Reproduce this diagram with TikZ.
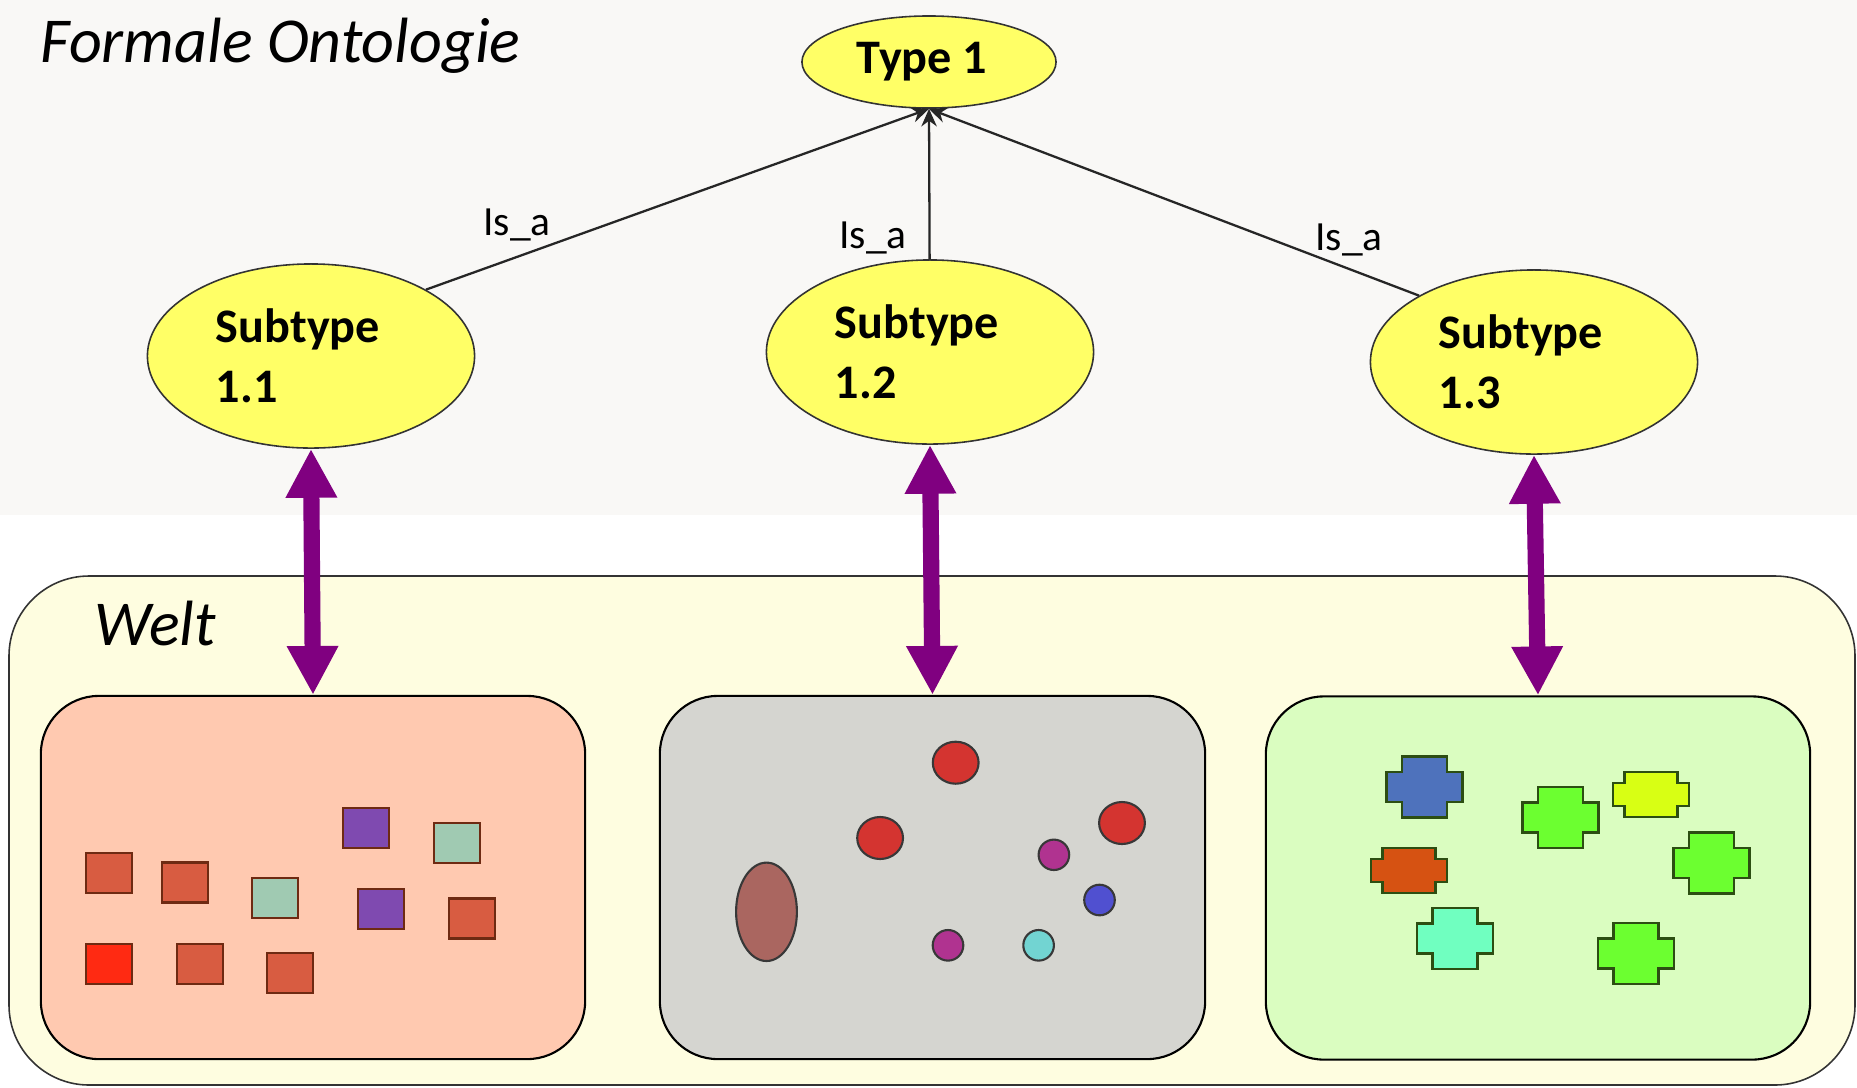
\documentclass[tikz,border=0pt]{standalone}
\usepackage{fontspec}
\setmainfont{Carlito}
\usetikzlibrary{shapes.geometric, arrows.meta}

\definecolor{topgrey}{HTML}{F9F8F6}
\definecolor{weltyellow}{HTML}{FEFDE0}
\definecolor{typeyellow}{HTML}{FFFF66}
\definecolor{linkpurple}{HTML}{800080}
\definecolor{boxred}{HTML}{FFC9B0}
\definecolor{boxgrey}{HTML}{D5D5D0}
\definecolor{boxgreen}{HTML}{DAFDC0}
\definecolor{tilered}{HTML}{D85C41}
\definecolor{tilebright}{HTML}{FF2A12}
\definecolor{tilemint}{HTML}{A0CAB2}
\definecolor{tilepurple}{HTML}{7F4AB0}
\definecolor{tileedge}{HTML}{6E2A12}
\definecolor{blobbrown}{HTML}{AA6660}
\definecolor{blobred}{HTML}{D43430}
\definecolor{blobmagenta}{HTML}{B03390}
\definecolor{blobblue}{HTML}{5050D0}
\definecolor{blobcyan}{HTML}{72D4D2}
\definecolor{crossedge}{HTML}{2C4E12}
\definecolor{crossblue}{HTML}{4E72BC}
\definecolor{crossgreen}{HTML}{6CFF30}
\definecolor{crossyellow}{HTML}{D8FF14}
\definecolor{crossorange}{HTML}{D65212}
\definecolor{crossaqua}{HTML}{70FFC0}

\begin{document}
\begin{tikzpicture}[x=0.01cm, y=-0.01cm,
    typenode/.style={ellipse, draw=black!80, line width=0.45pt, fill=typeyellow, inner sep=0pt,
        font=\fontsize{13.7}{17}\selectfont\bfseries},
    subnode/.style={typenode, minimum width=3.27cm, minimum height=1.84cm, text width=1.9cm, align=left},
    isalabel/.style={font=\fontsize{11.8}{14}\selectfont},
    titlelabel/.style={anchor=base west, inner sep=0pt, font=\fontsize{18.2}{22}\selectfont\itshape},
    isa/.style={draw=black!85, line width=0.65pt, -{Stealth[length=5pt,width=4.4pt]}},
    link/.style={draw=linkpurple, line width=4.6pt,
        {Triangle[length=13.9pt,width=13.7pt]}-{Triangle[length=13.9pt,width=13.7pt]}},
    world/.style={draw=black, line width=0.6pt, rounded corners=0.58cm, inner sep=0pt,
        minimum width=5.44cm, minimum height=3.63cm},
    tile/.style={draw=tileedge, line width=0.6pt},
    blob/.style={draw=black!78, line width=0.6pt},
    crossshape/.style={draw=crossedge, line width=0.7pt}]

    \useasboundingbox (0,0) rectangle (1857,1087);

    % Ontology background
    \fill[topgrey] (0,0) rectangle (1857,515);
    \node[titlelabel] (ontotitle) at (40,62) {Formale Ontologie};

    % Types
    \node[typenode, minimum width=2.54cm, minimum height=0.92cm] (t1) at (929,62) {Type 1\hspace*{4pt}};
    \node[subnode] (s11) at (311,356) {Subtype\\1.1};
    \node[subnode] (s12) at (930,352) {Subtype\\1.2};
    \node[subnode] (s13) at (1534,362) {Subtype\\1.3};

    % Is_a relations
    \draw[isa] (s11.30) -- (t1.south);
    \draw[isa] (s12) -- (t1.south);
    \draw[isa] (s13.150) -- (t1.south);
    \node[isalabel] (isa1) at (517,225) {Is\_a};
    \node[isalabel] (isa2) at (873,238) {Is\_a};
    \node[isalabel] (isa3) at (1349,240) {Is\_a};

    % World
    \draw[draw=black!80, line width=0.45pt, fill=weltyellow, rounded corners=0.8cm] (9,576) rectangle (1855,1085);
    \node[titlelabel] (welttitle) at (94,645) {Welt};

    \node[world, fill=boxred] (objs1) at (313,877.5) {};
    \node[world, fill=boxgrey, minimum width=5.45cm] (objs2) at (932.5,877.5) {};
    \node[world, fill=boxgreen] (objs3) at (1538,878) {};

    % Links between types and instances
    \draw[link] (s11.south) -- (objs1.north);
    \draw[link] (s12.south) -- (objs2.north);
    \draw[link] (s13.south) -- (objs3.north);

    % Instances of subtype 1.1
    \draw[tile, fill=tilered] (85.7,853) rectangle (131.7,893);
    \draw[tile, fill=tilered] (161.7,862.5) rectangle (207.7,902.5);
    \draw[tile, fill=tilemint] (252.4,877.7) rectangle (298.4,917.7);
    \draw[tile, fill=tilepurple] (342.9,808) rectangle (388.9,848);
    \draw[tile, fill=tilemint] (433.8,823) rectangle (479.8,863);
    \draw[tile, fill=tilepurple] (358.1,889.3) rectangle (404.1,929.3);
    \draw[tile, fill=tilered] (448.7,898.5) rectangle (494.7,938.5);
    \draw[tile, fill=tilebright] (85.7,944) rectangle (131.7,984);
    \draw[tile, fill=tilered] (176.8,944) rectangle (222.8,984);
    \draw[tile, fill=tilered] (267.3,953.3) rectangle (313.3,993.3);

    % Instances of subtype 1.2
    \draw[blob, fill=blobbrown] (766.5,911.8) ellipse [x radius=30.4, y radius=49.2];
    \draw[blob, fill=blobred] (955.7,762.7) ellipse [x radius=22.9, y radius=21];
    \draw[blob, fill=blobred] (880.1,838) ellipse [x radius=22.9, y radius=21];
    \draw[blob, fill=blobred] (1122,823) ellipse [x radius=22.9, y radius=21];
    \draw[blob, fill=blobmagenta] (1053.9,854.8) ellipse [x radius=15.3, y radius=15.2];
    \draw[blob, fill=blobblue] (1099.5,900) ellipse [x radius=15.3, y radius=15.3];
    \draw[blob, fill=blobmagenta] (948,945.3) ellipse [x radius=15.3, y radius=15.3];
    \draw[blob, fill=blobcyan] (1038.6,945.3) ellipse [x radius=15.3, y radius=15.3];

    % Instances of subtype 1.3
    \foreach \cx/\cy/\ow/\iw/\oh/\ih/\col in {1424.5/787.2/38/22.5/30.5/15/crossblue,
        1560.3/817.5/38/22.5/30.5/15/crossgreen, 1651/794.7/38/26.5/22.5/11.5/crossyellow,
        1409.2/870.3/38/26.5/22.5/11.5/crossorange, 1711.5/863/38/22.5/30.5/15/crossgreen,
        1454.8/938.5/38/22.5/30.5/15/crossaqua, 1635.8/953.5/38/22.5/30.5/15/crossgreen}
        \draw[crossshape, fill=\col] (\cx-\iw,\cy-\oh) -- (\cx+\iw,\cy-\oh) -- (\cx+\iw,\cy-\ih)
            -- (\cx+\ow,\cy-\ih) -- (\cx+\ow,\cy+\ih) -- (\cx+\iw,\cy+\ih) -- (\cx+\iw,\cy+\oh)
            -- (\cx-\iw,\cy+\oh) -- (\cx-\iw,\cy+\ih) -- (\cx-\ow,\cy+\ih) -- (\cx-\ow,\cy-\ih)
            -- (\cx-\iw,\cy-\ih) -- cycle;
\end{tikzpicture}
\end{document}
